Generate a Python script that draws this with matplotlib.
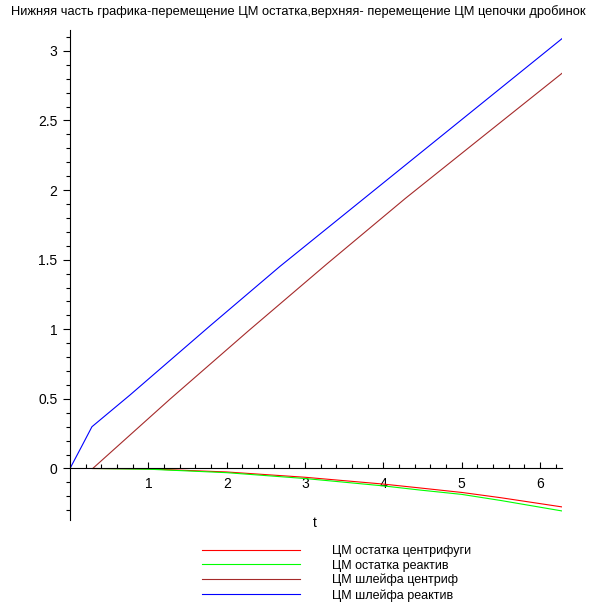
import numpy as np
import matplotlib.pyplot as plt
from matplotlib.ticker import MultipleLocator, FixedLocator

plt.rcParams['font.family'] = ['Liberation Sans', 'DejaVu Sans']

# ЦМ остатка центрифуги (красная)
t_red = [0.3, 1.0, 2.0, 3.0, 4.0, 4.47, 5.0, 5.5, 6.28]
y_red = [0.0, -0.003, -0.025, -0.063, -0.112, -0.14, -0.172, -0.21, -0.276]
# ЦМ остатка реактив (зеленая)
t_green = [0.3, 1.0, 2.0, 3.0, 4.0, 4.47, 5.0, 5.5, 6.28]
y_green = [0.0, -0.005, -0.03, -0.072, -0.125, -0.155, -0.186, -0.23, -0.305]
# ЦМ шлейфа центриф (темно-красная)
t_dred = [0.29, 1.28, 2.28, 3.28, 4.28, 5.28, 6.28]
y_dred = [0.0, 0.5, 0.99, 1.47, 1.94, 2.39, 2.839]
# ЦМ шлейфа реактив (синяя)
t_blue = [0.0, 0.15, 0.28, 0.766, 1.788, 2.68, 6.28]
y_blue = [0.0, 0.16, 0.30, 0.528, 1.025, 1.452, 3.088]

labels = ['ЦМ остатка центрифуги', 'ЦМ остатка реактив',
          'ЦМ шлейфа центриф', 'ЦМ шлейфа реактив']
colors = ['#ff0000', '#00ff00', '#a52a2a', '#0000ff']

fig = plt.figure(figsize=(6.1, 6.1), dpi=100)
ax = fig.add_axes([70/610, 90/610, 492/610, 490/610])

lw = 0.8
ax.plot(t_red, y_red, color=colors[0], lw=lw, label=labels[0])
ax.plot(t_green, y_green, color=colors[1], lw=lw, label=labels[1])
ax.plot(t_dred, y_dred, color=colors[2], lw=lw, label=labels[2])
ax.plot(t_blue, y_blue, color=colors[3], lw=lw, label=labels[3])

ax.set_xlim(0, 6.28)
ax.set_ylim(-0.37, 3.15)

for s in ['top', 'right']:
    ax.spines[s].set_visible(False)
ax.spines['left'].set_position(('data', 0))
ax.spines['bottom'].set_position(('data', 0))
ax.spines['left'].set_linewidth(0.8)
ax.spines['bottom'].set_linewidth(0.8)

ax.xaxis.set_major_locator(FixedLocator([1, 2, 3, 4, 5, 6]))
ax.xaxis.set_minor_locator(MultipleLocator(0.2))
ax.yaxis.set_minor_locator(MultipleLocator(0.1))
ax.set_yticks([0, 0.5, 1, 1.5, 2, 2.5, 3])
ax.set_yticklabels(['0', '0.5', '1', '1.5', '2', '2.5', '3'])

ax.tick_params(axis='x', which='major', direction='in', length=4, width=0.8, labelsize=10, pad=6)
ax.tick_params(axis='x', which='minor', direction='in', length=3, width=0.8)
ax.tick_params(axis='y', which='major', direction='out', length=5, width=0.8, labelsize=10, pad=4)
ax.tick_params(axis='y', which='minor', direction='out', length=3, width=0.8)

fig.text(315/610, 1 - 523/610, 't', fontsize=10, ha='center', va='center')
fig.text(298/610, 1 - 12/610, 'Нижняя часть графика-перемещение ЦМ остатка,верхняя- перемещение ЦМ цепочки дробинок',
         fontsize=9.3, ha='center', va='center')

fig.legend(loc='upper left', bbox_to_anchor=(202/610, 1 - 545/610), frameon=False,
           fontsize=9, handlelength=7.84, handletextpad=2.56, labelspacing=0.2,
           borderpad=0, borderaxespad=0)

fig.savefig('out.png', dpi=100)
